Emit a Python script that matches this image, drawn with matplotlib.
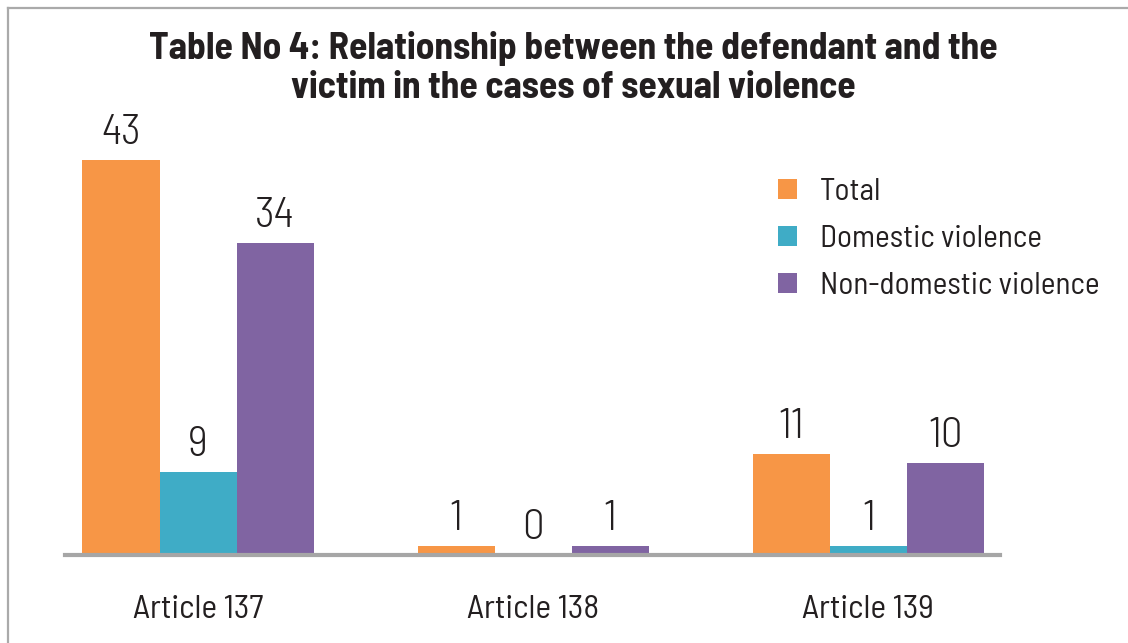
import matplotlib
matplotlib.use("Agg")
import matplotlib.pyplot as plt
from matplotlib.lines import Line2D
from matplotlib.patches import Patch
import numpy as np

categories = ["Article 137", "Article 138", "Article 139"]
series_names = ["Total", "Domestic violence", "Non-domestic violence"]
total = [43, 1, 11]
domestic = [9, 0, 1]
non_domestic = [34, 1, 10]
title = "Table No 4: Relationship between the defendant and the\nvictim in the cases of sexual violence"

colors = ["#F79646", "#3FACC6", "#8064A2"]
FONT = "Barlow Semi Condensed"
TXT = "#231F20"

fig = plt.figure(figsize=(11.28, 6.43), dpi=100)
W, H = 1128, 643
ax = fig.add_axes([65 / W, (H - 555) / H, (1000 - 65) / W, (555 - 160) / H])

x = np.arange(len(categories))
bw = 0.23
series = [total, domestic, non_domestic]
for i, (vals, col) in enumerate(zip(series, colors)):
    pos = x + (i - 1) * bw
    ax.bar(pos, vals, width=bw, color=col, linewidth=0, zorder=2)
    for p, v in zip(pos, vals):
        ax.annotate(str(v), (p, v), xytext=(0, 5), textcoords="offset points",
                    ha="center", va="bottom", fontsize=31,
                    family=FONT, fontweight=300, color=TXT)

ax.set_xlim(-0.397, 2.393)
ax.set_ylim(0, 43)
for s in ["top", "right", "left"]:
    ax.spines[s].set_visible(False)
ax.spines["bottom"].set_color("#A6A6A6")
ax.spines["bottom"].set_linewidth(3)
ax.set_yticks([])
ax.set_xticks(x)
ax.set_xticklabels(categories, family=FONT, fontsize=24, fontweight=400, color=TXT)
ax.tick_params(axis="x", length=0, pad=29)

fig.text(573 / W, 1 - 68 / H, title, ha="center", va="center", fontsize=27,
         family=FONT, fontweight="bold", color=TXT, linespacing=1.2)

handles = [Patch(facecolor=c, edgecolor="none") for c in colors]
leg = fig.legend(handles, series_names, loc="upper left", bbox_to_anchor=(750 / W, 1 - 150 / H),
                 frameon=False, prop={"family": FONT, "size": 22.5, "weight": 400},
                 handlelength=0.6, handleheight=0.6, handletextpad=0.75, labelspacing=0.6)
for t in leg.get_texts():
    t.set_color(TXT)

# frame border (top and left)
fig.add_artist(Line2D([8 / W, 1], [1 - 8 / H, 1 - 8 / H], transform=fig.transFigure,
                      color="#AAAAAA", linewidth=1.6))
fig.add_artist(Line2D([8 / W, 8 / W], [0, 1 - 8 / H], transform=fig.transFigure,
                      color="#AAAAAA", linewidth=1.6))

fig.savefig("out.png", dpi=100)
